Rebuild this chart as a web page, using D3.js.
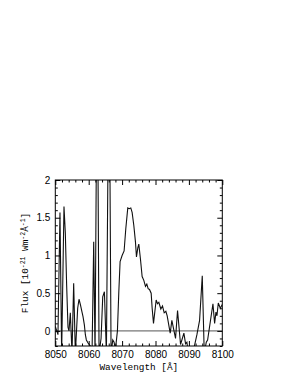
<!DOCTYPE html>
<html><head><meta charset="utf-8">
<script src="https://cdn.jsdelivr.net/npm/d3@7"></script>
<style>body{margin:0;background:#fff}svg{display:block}</style>
</head><body>
<script>
const wavelength = [8050.0,8050.8,8051.4,8051.9,8052.6,8053.0,8053.4,8053.8,8054.1,8054.5,8055.0,8055.5,8056.0,8056.7,8057.1,8057.5,8058.0,8058.3,8058.7,8059.0,8059.3,8059.8,8060.5,8061.0,8061.5,8061.9,8062.55,8063.1,8063.7,8064.2,8064.7,8065.3,8066.1,8066.7,8067.2,8067.6,8068.0,8068.6,8069.0,8069.4,8070.0,8070.6,8071.1,8071.7,8072.1,8072.6,8073.0,8073.5,8074.0,8074.3,8074.7,8075.0,8075.5,8076.0,8076.5,8077.0,8077.4,8077.8,8078.2,8078.7,8079.0,8079.4,8080.2,8080.6,8081.0,8081.6,8082.1,8082.6,8083.1,8083.5,8084.4,8084.9,8085.4,8086.0,8086.6,8087.5,8088.5,8089.0,8089.4,8089.7,8090.5,8091.4,8092.4,8093.2,8094.0,8094.6,8095.2,8095.6,8097.2,8097.7,8098.1,8098.4,8098.8,8099.4,8100.0];
const flux = [0.06,-0.05,1.57,-0.3,1.65,1.3,0.6,0.05,0.0,0.24,-0.3,0.63,-0.3,0.3,0.42,0.35,0.25,0.19,0.08,-0.05,-0.12,-0.16,-0.2,-0.3,1.18,-0.3,4.0,-0.3,-0.1,0.45,0.52,-0.3,4.0,-0.3,-0.12,-0.15,-0.25,0.0,0.5,0.92,1.0,1.06,1.35,1.63,1.62,1.63,1.57,1.4,1.18,0.98,1.1,1.15,0.95,0.72,0.67,0.59,0.62,0.56,0.55,0.5,0.3,0.1,0.41,0.36,0.38,0.29,0.33,0.24,0.26,0.2,-0.03,0.14,0.03,-0.1,0.27,-0.18,-0.03,-0.17,-0.15,-0.25,-0.25,-0.25,-0.05,0.14,0.73,-0.3,-0.15,-0.12,0.36,0.1,0.25,0.2,0.37,0.3,0.35];
const xMajorTicks = [8050,8060,8070,8080,8090,8100];
const yMajorTicks = [0,0.5,1,1.5,2];
const yTickLabels = ["0","0.5","1","1.5","2"];

const W = 300, H = 388;
const pL = 55.3, pR = 222.3, pT = 180, pB = 346;
const svg = d3.select("body").append("svg").attr("width", W).attr("height", H);
const x = d3.scaleLinear().domain([8050, 8100]).range([pL, pR]);
const y = d3.scaleLinear().domain([-0.2, 2]).range([pB, pT]);

const xMinor = d3.range(8050, 8100.1, 2).filter(v => v % 10 !== 0);
const yMinor = d3.range(-0.2, 2.001, 0.1).map(v => +v.toFixed(1)).filter(v => Math.abs(v*2 - Math.round(v*2)) > 1e-6);

svg.append("defs").append("clipPath").attr("id","clip")
  .append("rect").attr("x", pL).attr("y", pT).attr("width", pR-pL).attr("height", pB-pT);

svg.append("line").attr("x1", x(8050)).attr("x2", x(8100)).attr("y1", y(0)).attr("y2", y(0))
  .attr("stroke", "#555").attr("stroke-width", 1);

const line = d3.line().x((d,i) => x(wavelength[i])).y(d => y(d));
svg.append("path").datum(flux).attr("clip-path","url(#clip)")
  .attr("d", line).attr("fill","none").attr("stroke","#111").attr("stroke-width",1.1);

const tickFont = "'Liberation Sans', Arial, sans-serif";
function style(g){
  g.select(".domain").remove();
  g.selectAll("line").attr("stroke","#000");
  g.selectAll("text").attr("font-family", tickFont).attr("font-size", 10).attr("fill","#000");
}
svg.append("g").attr("transform",`translate(0,${pB})`)
  .call(d3.axisBottom(x).tickValues(xMajorTicks).tickFormat(d3.format("d")).tickSizeInner(-5).tickSizeOuter(0).tickPadding(5)).call(style);
svg.append("g").attr("transform",`translate(0,${pB})`)
  .call(d3.axisBottom(x).tickValues(xMinor).tickFormat("").tickSizeInner(-2.5).tickSizeOuter(0)).call(style);
svg.append("g").attr("transform",`translate(0,${pT})`)
  .call(d3.axisTop(x).tickValues(xMajorTicks).tickFormat("").tickSizeInner(-5).tickSizeOuter(0)).call(style);
svg.append("g").attr("transform",`translate(0,${pT})`)
  .call(d3.axisTop(x).tickValues(xMinor).tickFormat("").tickSizeInner(-2.5).tickSizeOuter(0)).call(style);
svg.append("g").attr("transform",`translate(${pL},0)`)
  .call(d3.axisLeft(y).tickValues(yMajorTicks).tickFormat((d,i)=>yTickLabels[i]).tickSizeInner(-5).tickSizeOuter(0).tickPadding(5)).call(style);
svg.append("g").attr("transform",`translate(${pL},0)`)
  .call(d3.axisLeft(y).tickValues(yMinor).tickFormat("").tickSizeInner(-2.5).tickSizeOuter(0)).call(style);
svg.append("g").attr("transform",`translate(${pR},0)`)
  .call(d3.axisRight(y).tickValues(yMajorTicks).tickFormat("").tickSizeInner(-5).tickSizeOuter(0)).call(style);
svg.append("g").attr("transform",`translate(${pR},0)`)
  .call(d3.axisRight(y).tickValues(yMinor).tickFormat("").tickSizeInner(-2.5).tickSizeOuter(0)).call(style);

svg.append("rect").attr("x", pL).attr("y", pT).attr("width", pR-pL).attr("height", pB-pT)
  .attr("fill","none").attr("stroke","#000").attr("stroke-width",1);

const labelFont = "'Liberation Mono', 'DejaVu Sans Mono', monospace";
svg.append("text").attr("x", (pL+pR)/2).attr("y", 370)
  .attr("text-anchor","middle").attr("font-family", labelFont).attr("font-size", 9.4).attr("fill","#000")
  .text("Wavelength [Å]");

const yl = svg.append("text").attr("transform", `translate(28,${(pT+pB)/2}) rotate(-90)`)
  .attr("text-anchor","middle").attr("font-family", labelFont).attr("font-size", 9.4).attr("fill","#000");
const parts = [["Flux [10",0],["-21",1],[" Wm",0],["-2",1],["Å",0],["-1",1],["]",0]];
parts.forEach(([t,sup]) => {
  const ts = yl.append("tspan").text(t);
  if (sup) ts.attr("font-size", 6.5).attr("baseline-shift","super");
});
</script>
</body></html>
